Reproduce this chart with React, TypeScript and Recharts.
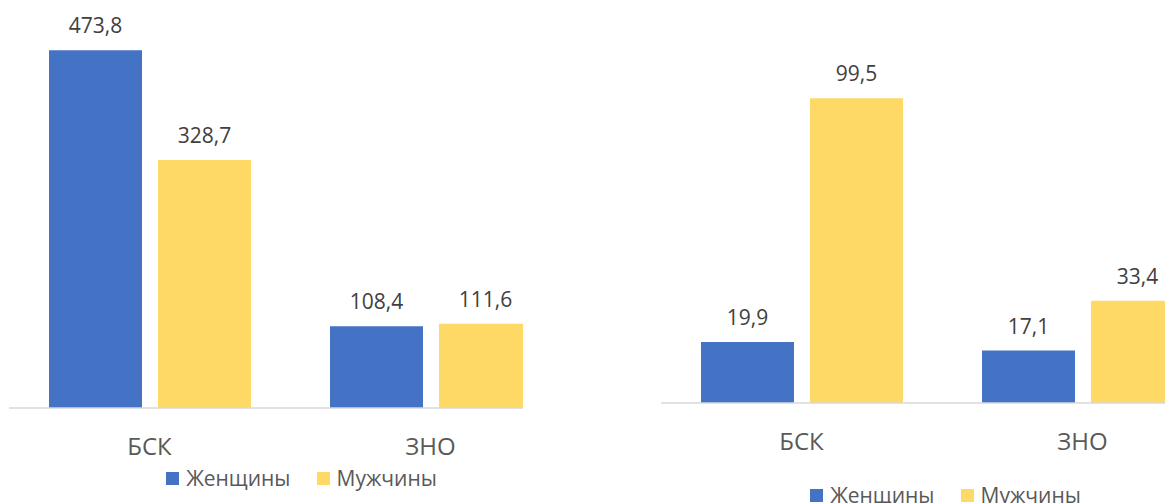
import React from 'react';
import { BarChart, Bar, XAxis, YAxis, LabelList, Legend } from 'recharts';

const categories = ['БСК', 'ЗНО'];
const seriesNames = ['Женщины', 'Мужчины'];
const leftWomen = [473.8, 108.4];
const leftMen = [328.7, 111.6];
const rightWomen = [19.9, 17.1];
const rightMen = [99.5, 33.4];

const BLUE = '#4472C4';
const YELLOW = '#FFD966';
const FONT = '"Open Sans", sans-serif';

const build = (w: number[], m: number[]) =>
  categories.map((c, i) => ({ name: c, women: w[i], men: m[i] }));

const leftData = build(leftWomen, leftMen);
const rightData = build(rightWomen, rightMen);

const fmt = (v: any) => (typeof v === 'number' ? v.toFixed(1).replace('.', ',') : v);

const LegendContent = () => (
  <div style={{ display: 'flex', justifyContent: 'center', alignItems: 'center', height: 26, fontFamily: FONT }}>
    {seriesNames.map((n, i) => (
      <div key={n} style={{ display: 'flex', alignItems: 'center', marginRight: i === 0 ? 26 : 0 }}>
        <span style={{ display: 'inline-block', width: 13, height: 13, background: i === 0 ? BLUE : YELLOW, marginRight: 7 }} />
        <span style={{ fontSize: 21, lineHeight: '26px', color: '#595959' }}>{n}</span>
      </div>
    ))}
  </div>
);

const Chart = ({ data, max, width, margin, axisHeight, legendStyle }: any) => (
  <BarChart
    width={width}
    height={503}
    data={data}
    margin={margin}
    barGap={16}
    barCategoryGap={40}
    style={{ fontFamily: FONT }}
  >
    <XAxis
      dataKey="name"
      height={axisHeight}
      tickLine={false}
      tickSize={0}
      tickMargin={30}
      axisLine={{ stroke: '#d9d9d9', strokeWidth: 1.5 }}
      tick={{ fill: '#595959', fontSize: 24, fontFamily: FONT }}
      interval={0}
    />
    <YAxis hide domain={[0, max]} />
    <Legend
      layout="horizontal"
      verticalAlign="middle"
      align="center"
      wrapperStyle={legendStyle}
      content={() => <LegendContent />}
    />
    <Bar dataKey="women" name={seriesNames[0]} fill={BLUE} isAnimationActive={false}>
      <LabelList dataKey="women" position="top" offset={17} formatter={fmt} style={{ fill: '#404040', fontSize: 21, fontFamily: FONT }} />
    </Bar>
    <Bar dataKey="men" name={seriesNames[1]} fill={YELLOW} isAnimationActive={false}>
      <LabelList dataKey="men" position="top" offset={17} formatter={fmt} style={{ fill: '#404040', fontSize: 21, fontFamily: FONT }} />
    </Bar>
  </BarChart>
);

export default function App() {
  return (
    <div style={{ position: 'fixed', left: 0, top: 0, width: 1165, height: 503, overflow: 'hidden', background: '#fff' }}>
      <div style={{ position: 'absolute', left: 0, top: 0, width: 523, height: 503, overflow: 'hidden' }}>
        <Chart
          data={leftData}
          max={514}
          width={600}
          margin={{ top: 20, right: 29, bottom: 0, left: 9 }}
          axisHeight={95}
          legendStyle={{ position: 'absolute', left: 0, top: 465, width: 603, height: 26 }}
        />
      </div>
      <div style={{ position: 'absolute', left: 600, top: 0, width: 565, height: 503, overflow: 'hidden' }}>
        <Chart
          data={rightData}
          max={125}
          width={640}
          margin={{ top: 20, right: 17, bottom: 0, left: 61 }}
          axisHeight={100}
          legendStyle={{ position: 'absolute', left: 100, top: 482, width: 491, height: 26 }}
        />
      </div>
    </div>
  );
}
